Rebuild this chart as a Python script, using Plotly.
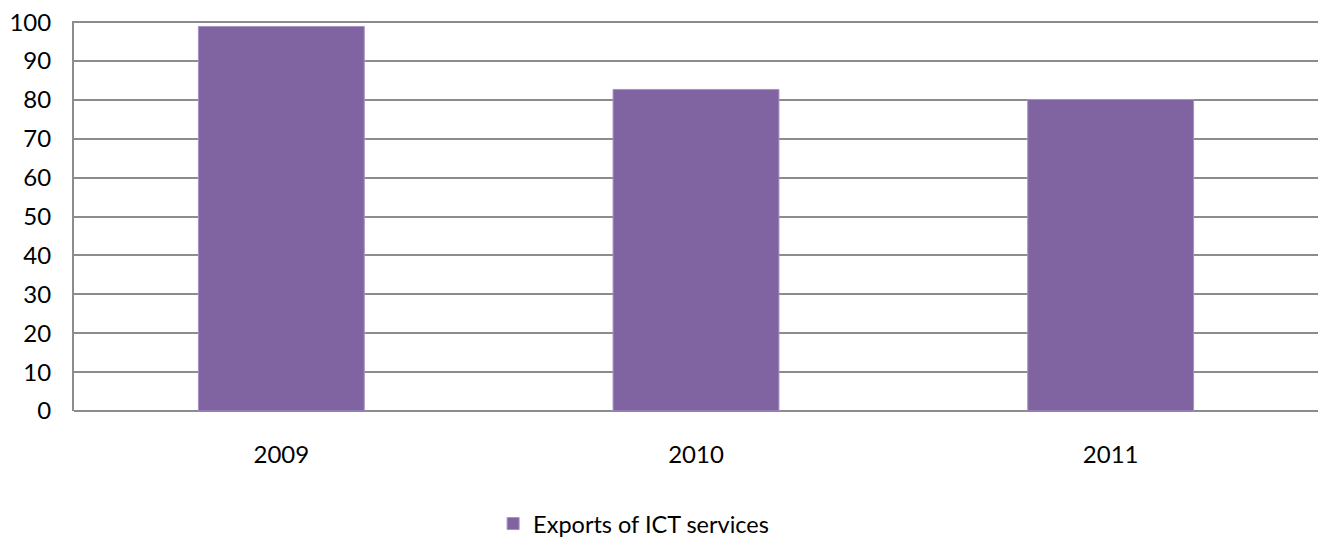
import plotly.graph_objects as go

years = ["2009", "2010", "2011"]
exports_ict = [98.9, 82.7, 80.1]

grid_col = "#8c8c8c"
font_name = "Lato"

fig = go.Figure()
fig.add_trace(go.Bar(x=years, y=exports_ict, name="Exports of ICT services",
                     marker_color="#8064A2",
                     marker_line=dict(color="#a792c4", width=1),
                     width=0.4))

fig.update_layout(
    width=1322, height=540,
    margin=dict(l=74, r=4, t=21, b=129, autoexpand=False),
    plot_bgcolor="white", paper_bgcolor="white",
    font=dict(family=font_name, size=24, color="black"),
    showlegend=True,
    legend=dict(orientation="h", x=0.373, xanchor="left", xref="container",
                y=0.03, yanchor="middle", yref="container",
                font=dict(size=23.5)),
)
fig.update_xaxes(type="category", range=[-0.5, 2.5], showgrid=False,
                 showline=False, ticks="", ticklabelstandoff=27, automargin=False)
fig.update_yaxes(range=[0, 100.3], dtick=10, showgrid=True, gridcolor=grid_col,
                 gridwidth=2, zeroline=True, zerolinecolor=grid_col,
                 zerolinewidth=2, showline=True, linecolor=grid_col, linewidth=2,
                 ticks="", ticklabelstandoff=16, automargin=False)

# page body has an 8px default margin; drop it so the figure sits at 0,0
fig.write_html("out.html", config={"displayModeBar": False},
               post_script="document.body.style.margin='0px';")
